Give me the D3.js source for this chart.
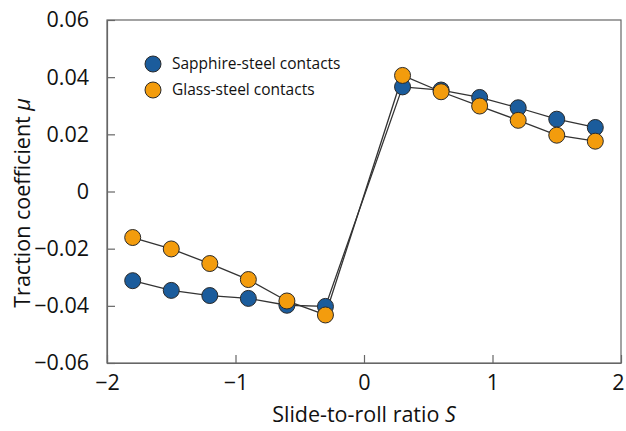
<!DOCTYPE html>
<html>
<head>
<meta charset="utf-8">
<script src="https://cdn.jsdelivr.net/npm/d3@7"></script>
<style>
  html, body { margin: 0; padding: 0; background: #fff; }
  svg { display: block; font-family: "Open Sans", "Noto Sans", sans-serif; }
</style>
</head>
<body>
<svg id="chart" width="626" height="431"></svg>
<script>
// Slide-to-roll ratio values (negative and positive branches)
const slideRatios = [-1.8, -1.5, -1.2, -0.9, -0.6, -0.3, 0.3, 0.6, 0.9, 1.2, 1.5, 1.8];
// Traction coefficient for each contact pair
const sapphireSteel = [-0.0312, -0.0346, -0.0364, -0.0374, -0.0398, -0.0402,
                        0.0366, 0.0355, 0.0329, 0.0293, 0.0253, 0.0224];
const glassSteel    = [-0.0161, -0.0201, -0.0252, -0.0308, -0.0383, -0.0432,
                        0.0406, 0.0349, 0.0299, 0.0249, 0.0197, 0.0176];
const seriesNames = ["Sapphire-steel contacts", "Glass-steel contacts"];
const seriesColors = ["#1b5c9c", "#f39c0d"];
const xTicks = [-2, -1, 0, 1, 2];
const yTicks = [-0.06, -0.04, -0.02, 0, 0.02, 0.04, 0.06];

const svg = d3.select("#chart");
const margin = { left: 107, right: 5, top: 20, bottom: 68 };
const W = 626, H = 431;

const x = d3.scaleLinear().domain([-2, 2]).range([margin.left, W - margin.right]);
const y = d3.scaleLinear().domain([-0.06, 0.06]).range([H - margin.bottom, margin.top]);

const axisColor = "#666";
const labelFont = "'Open Sans', 'Noto Sans', sans-serif";

// Frame
svg.append("rect")
  .attr("x", x(-2)).attr("y", y(0.06))
  .attr("width", x(2) - x(-2)).attr("height", y(-0.06) - y(0.06))
  .attr("fill", "none").attr("stroke", axisColor).attr("stroke-width", 1.2);

const fmtY = v => v === 0 ? "0" : d3.format(".2f")(v);

// Bottom axis with inward ticks
const gx = svg.append("g")
  .attr("transform", `translate(0,${y(-0.06)})`)
  .call(d3.axisBottom(x).tickValues(xTicks).tickFormat(d3.format("d"))
        .tickSizeInner(-8).tickSizeOuter(0).tickPadding(12));
gx.select(".domain").attr("stroke", axisColor).attr("stroke-width", 1.2);
gx.selectAll(".tick line").attr("stroke", axisColor).attr("stroke-width", 1.2);
gx.selectAll(".tick text").attr("font-size", 21.5).attr("fill", "#111")
  .attr("font-family", labelFont);
// keep the last label inside the page edge
gx.selectAll(".tick text").filter(d => d === 2).attr("dx", -3);

// Left axis with inward ticks
const gy = svg.append("g")
  .attr("transform", `translate(${x(-2)},0)`)
  .call(d3.axisLeft(y).tickValues(yTicks).tickFormat(fmtY)
        .tickSizeInner(-8).tickSizeOuter(0).tickPadding(18));
gy.select(".domain").attr("stroke", axisColor).attr("stroke-width", 1.2);
gy.selectAll(".tick line").attr("stroke", axisColor).attr("stroke-width", 1.2);
gy.selectAll(".tick text").attr("font-size", 21.5).attr("fill", "#111")
  .attr("font-family", labelFont);

// Axis titles
const xt = svg.append("text")
  .attr("x", x(0)).attr("y", 422)
  .attr("text-anchor", "middle").attr("font-size", 21.5).attr("fill", "#111");
xt.append("tspan").text("Slide-to-roll ratio ");
xt.append("tspan").attr("font-style", "italic").text("S");

const yt = svg.append("text")
  .attr("transform", `translate(30,${y(-0.004)}) rotate(-90)`)
  .attr("text-anchor", "middle").attr("font-size", 21.5).attr("fill", "#111");
yt.append("tspan").text("Traction coefficient ");
yt.append("tspan").attr("font-style", "italic").text("μ");

// Series lines and markers
const series = [sapphireSteel, glassSteel];
const line = d3.line().x((d, i) => x(slideRatios[i])).y(d => y(d));

series.forEach(vals => {
  svg.append("path").datum(vals)
    .attr("d", line).attr("fill", "none")
    .attr("stroke", "#333").attr("stroke-width", 1.3);
});

series.forEach((vals, si) => {
  svg.append("g").selectAll("circle").data(vals).join("circle")
    .attr("cx", (d, i) => x(slideRatios[i]))
    .attr("cy", d => y(d))
    .attr("r", 8)
    .attr("fill", seriesColors[si])
    .attr("stroke", "#2a2a2a").attr("stroke-width", 1);
});

// Legend
const legend = svg.append("g").attr("transform", "translate(153,64)");
seriesNames.forEach((name, i) => {
  const row = legend.append("g").attr("transform", `translate(0,${i * 26})`);
  row.append("circle").attr("r", 8)
    .attr("fill", seriesColors[i]).attr("stroke", "#2a2a2a").attr("stroke-width", 1);
  row.append("text").attr("x", 19).attr("y", 0).attr("dy", "0.35em")
    .attr("font-size", 15.5).attr("fill", "#111").text(name);
});
</script>
</body>
</html>
